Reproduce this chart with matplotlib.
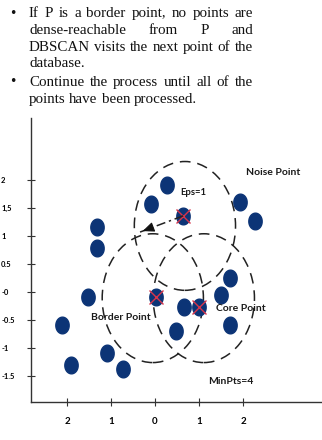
import matplotlib.pyplot as plt
import numpy as np
from matplotlib.patches import Circle
from matplotlib.path import Path

# text block above the chart
bullet_lines = [
    ["If P is a border point, no points are",
     "dense-reachable from P and",
     "DBSCAN visits the next point of the",
     "database."],
    ["Continue the process until all of the",
     "points have been processed."],
]

# plain points
pts_x = [0.27, -0.09, 1.93, 2.27, -1.32, -1.32, 1.70, -1.52, 0.66, 1.50,
         1.70, 0.48, -2.11, -1.09, -1.91, -0.73]
pts_y = [1.91, 1.57, 1.61, 1.27, 1.16, 0.79, 0.25, -0.09, -0.27, -0.05,
         -0.59, -0.70, -0.59, -1.09, -1.30, -1.38]

# crossed (visited) points
cross_x = [0.64, 0.02, 1.00]
cross_y = [1.36, -0.09, -0.27]

# eps neighbourhoods
circ_x = [0.68, -0.05, 1.11]
circ_y = [1.18, -0.11, -0.11]
eps_r = 1.15

# arrow from visited point to the neighbourhood edge
arrow_from = (0.64, 1.36)
arrow_to = (-0.34, 1.07)

labels = ["Noise Point", "Eps=1", "Core Point", "Border Point", "MinPts=4"]
label_x = [2.68, 0.86, 1.95, -0.77, 1.73]
label_y = [2.125, 1.77, -0.29, -0.45, -1.59]
label_size = [7.5, 6.8, 7.5, 7.5, 7.5]

xticks = [-2, -1, 0, 1, 2]
xticklabels = ["2", "1", "0", "1", "2"]
yticks = [2, 1.5, 1, 0.5, 0, -0.5, -1, -1.5]
yticklabels = ["2", "1,5", "1", "0.5", "-0", "-0.5", "-1", "-1.5"]

navy = "#0c3476"
red = "#d8344a"

fig = plt.figure(figsize=(3.22, 4.40), dpi=100)
W, H = 322, 440

# ---- justified text ----
renderer = fig.canvas.get_renderer()
x0, x1 = 29, 253
line_base = [17, 34, 51, 67, 86, 103]
serif = dict(family="Liberation Serif", fontsize=10.8, color="#111111",
             va="baseline")


def put_line(s, y, justify):
    words = s.split()
    objs = [fig.text(0, 1 - y / H, w, **serif) for w in words]
    widths = [o.get_window_extent(renderer).width for o in objs]
    if justify and len(words) > 1:
        gap = (x1 - x0 - sum(widths)) / (len(words) - 1)
    else:
        gap = renderer.points_to_pixels(10.8) * 0.25
    x = x0
    for o, w in zip(objs, widths):
        o.set_x(x / W)
        x += w + gap


k = 0
for block in bullet_lines:
    fig.text(9 / W, 1 - (line_base[k] - 4) / H, "\u2022", family="DejaVu Sans",
             fontsize=9, va="center", color="#111111")
    for i, s in enumerate(block):
        put_line(s, line_base[k], i < len(block) - 1)
        k += 1

# ---- diagram ----
ax = fig.add_axes([31 / W, 1 - 402 / H, 1 - 31 / W, (402 - 118) / H])
ax.set_xlim(-2.818, 3.795)
ax.set_ylim(-1.964, 3.107)
for s in ["top", "right"]:
    ax.spines[s].set_visible(False)
for s in ["left", "bottom"]:
    ax.spines[s].set_color("#333333")
    ax.spines[s].set_linewidth(1.0)

t = np.linspace(0, 2 * np.pi, 60)
oval = Path(np.column_stack([0.8 * np.cos(t), np.sin(t)]))

for cx, cy in zip(circ_x, circ_y):
    ax.add_patch(Circle((cx, cy), eps_r, fill=False, ec="#222222", lw=1.1,
                        ls=(0, (7, 4.5))))

ax.plot(pts_x, pts_y, ls="none", marker=oval, ms=12, color=navy, mec=navy)
ax.plot(cross_x, cross_y, ls="none", marker=oval, ms=12, color=navy, mec=navy)
ax.plot(cross_x, cross_y, ls="none", marker="x", ms=10, mew=1.0, color=red)

ax.plot([arrow_from[0], arrow_to[0]], [arrow_from[1], arrow_to[1]],
        color="#222222", lw=1.1, ls=(0, (6, 2.5, 1.5, 2.5)))
ax.annotate("", xy=arrow_to, xytext=(arrow_to[0] + 0.2, arrow_to[1] + 0.06),
            arrowprops=dict(arrowstyle="-|>,head_length=0.7,head_width=0.3",
                            color="#111111", lw=0.8))

for s, lx, ly, fs in zip(labels, label_x, label_y, label_size):
    ax.text(lx, ly, s, family="Lato", weight="bold", fontsize=fs,
            ha="center", va="center", color="#1a1a1a")

ax.set_xticks(xticks)
ax.set_xticklabels(xticklabels, family="Lato", weight="bold", fontsize=7)
ax.set_yticks(yticks)
ax.set_yticklabels(yticklabels, family="Lato", weight="bold", fontsize=5.5,
                   ha="left")
ax.tick_params(axis="x", direction="inout", length=6, width=0.8,
               color="#333333", pad=8)
ax.tick_params(axis="y", direction="inout", length=6, width=0.8,
               color="#333333", pad=18.5)

fig.savefig("out.png", dpi=100)
